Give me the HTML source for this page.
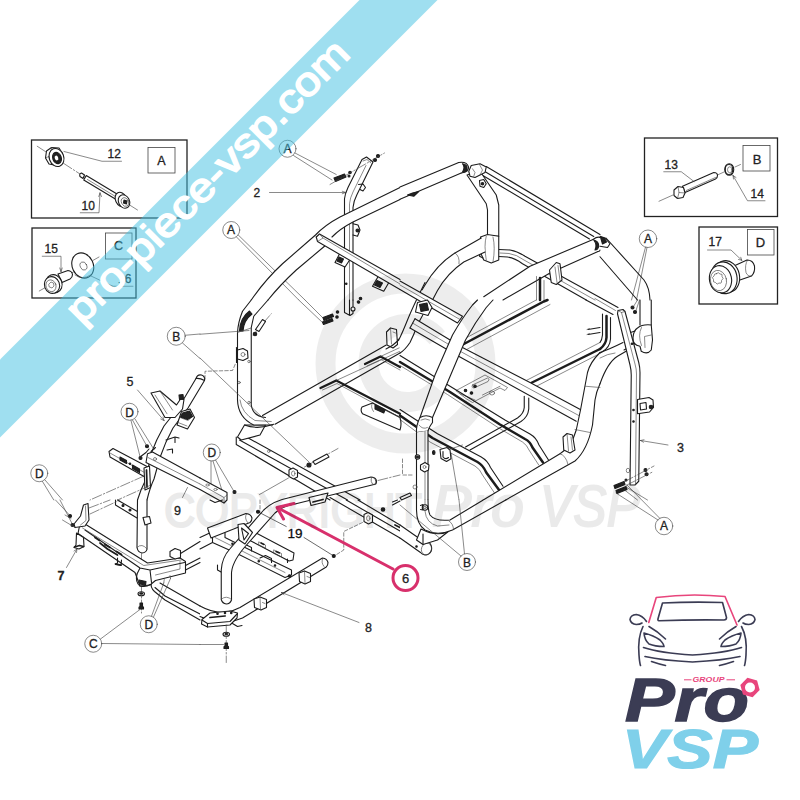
<!DOCTYPE html>
<html><head><meta charset="utf-8"><title>pro-piece-vsp.com</title>
<style>
html,body{margin:0;padding:0;background:#fff;}
body{width:800px;height:800px;overflow:hidden;position:relative;}
svg{position:absolute;left:0;top:0;display:block;}
text{font-family:"Liberation Sans","DejaVu Sans",sans-serif;}
.ln{fill:none;stroke:#1a1a1a;stroke-width:1;stroke-linecap:round;stroke-linejoin:round;}
.t4 path,.t4 line,.t4 polyline,.t4 circle,.t4 ellipse,.t4 rect,.t4 polygon{fill:none;stroke:#1c1c1c;stroke-width:4.4;stroke-linecap:round;stroke-linejoin:round;}
.t4 .f{fill:#fff;}
.t4 .w{fill:#fff;stroke:none;}
.t4 .k{fill:#222;}
.t4 .thin{stroke-width:2.5;stroke:#444;}
.t4 .dd{stroke-width:2.5;stroke:#444;stroke-dasharray:40 8 6 8;}
.t4 .ds{stroke-width:2.5;stroke:#444;stroke-dasharray:14 8;}
.lbl{font-size:12px;fill:#222;stroke:#222;stroke-width:.3px;}
</style></head><body>
<svg width="800" height="800" viewBox="0 0 800 800">
<rect width="800" height="800" fill="#fff"/>


<!-- DRAWING -->
<g id="boxes" fill="none" stroke="#222" stroke-width="1.3">
<rect x="31.5" y="140" width="155.5" height="78"/>
<rect x="32" y="228" width="104" height="70"/>
<rect x="644.5" y="138" width="133" height="78.5"/>
<rect x="699" y="227" width="78.5" height="77"/>
<g stroke-width="0.8" stroke="#444">
<rect x="148" y="147.5" width="27" height="25.5"/>
<rect x="105.5" y="233" width="26.5" height="26"/>
<rect x="743" y="145.5" width="27" height="25.5"/>
<rect x="747.5" y="229.5" width="26.5" height="25.5"/>
</g>
</g>

<g id="tiles">
<!--TILES-->
<g class="t4" transform="translate(0,100) scale(.25)">
<!-- box A -->
<path d="M149,185 L340,309 M520,421 L550,440" class="dd"/>
<!-- nut 12 -->
<path class="f" d="M186,204 L206,190 L236,192 L250,214 L246,248 L226,262 L196,256 L182,232 Z"/>
<path d="M206,190 L204,222 L226,262 M204,222 L182,232" class="thin"/>
<ellipse cx="226" cy="230" rx="29" ry="37" class="f" transform="rotate(-20 226 230)"/>
<ellipse cx="228" cy="232" rx="17" ry="23" class="k" transform="rotate(-20 228 232)"/>
<ellipse cx="226" cy="232" rx="7" ry="10" style="fill:#fff;stroke:none" transform="rotate(-20 226 232)"/>
<path d="M486,245 L408,245 L256,206" class="thin"/>
<!-- bolt 10 -->
<path class="f" d="M338,300 L326,292 Q316,294 320,306 L332,314 Z"/>
<path class="f" d="M345,302 L473,379 L463,397 L335,320 Z"/>
<path d="M350,318 L462,386" class="thin"/>
<ellipse cx="484" cy="398" rx="22" ry="30" class="f" transform="rotate(-25 484 398)"/>
<ellipse cx="496" cy="406" rx="22" ry="28" class="f" transform="rotate(-25 496 406)"/>
<ellipse cx="500" cy="408" rx="14" ry="18" class="thin" transform="rotate(-25 500 408)"/>
<path d="M496,400 L508,404 L506,416 L494,412 Z" class="k"/>
<path d="M321,451 L396,451 L400,372 M400,372 l-5,14 M400,372 l6,14" class="thin"/>
<!-- box C -->
<path d="M157,764 L180,751 M373,641 L396,628 M280,696 L300,684" class="thin"/>
<!-- washer 16 -->
<ellipse cx="331" cy="662" rx="42" ry="52" class="f" transform="rotate(-25 331 662)"/>
<ellipse cx="334" cy="664" rx="13" ry="17" class="thin" transform="rotate(-25 334 664)"/>
<path d="M300,700 Q330,722 362,700" class="thin"/>
<!-- bolt 15 -->
<path class="f" d="M232,696 L272,682 Q288,684 290,698 Q290,710 280,716 L248,730 Z"/>
<ellipse cx="216" cy="735" rx="32" ry="37" class="f" transform="rotate(-20 216 735)"/>
<ellipse cx="208" cy="740" rx="30" ry="34" class="f" transform="rotate(-20 208 740)"/>
<ellipse cx="204" cy="743" rx="20" ry="24" class="thin" transform="rotate(-20 204 743)"/>
<path d="M196,736 l8,-8 l10,4 l2,12 l-8,8 l-10,-4 Z" class="thin"/>
<path d="M169,625 L244,625 L244,686 M244,686 l-5,-14 M244,686 l5,-14" class="thin"/>
<path d="M532,745 L436,745 M451,745 L364,704" class="thin"/>
</g>
<g class="lbl">
<text x="107.5" y="158.4" font-size="12">12</text>
<text x="81.5" y="210" font-size="12">10</text>
<text x="44.5" y="252.8" font-size="12">15</text>
<text x="118" y="283" font-size="12">16</text>
<text x="161.5" y="164.7" text-anchor="middle" font-size="12.5">A</text>
<text x="118.5" y="250.2" text-anchor="middle" font-size="12.5">C</text>
</g>
<g class="t4" transform="translate(0,300) scale(.25)">
<!-- left plate -->
<path class="f" d="M436,606 L452,594 L592,668 L592,700 L576,706 L440,628 Z"/>
<path d="M440,612 L578,690" class="thin"/>
<path d="M480,628 L506,642 L506,654 L480,640 Z M530,660 L558,676 L558,690 L530,674 Z" class="k"/>
<circle cx="520" cy="655" r="3" class="k"/>
<!-- part 5 tube -->
<path class="w" d="M784,314 Q790,296 806,300 Q822,306 818,322 L752,432 L692,512 Q660,570 640,630 L616,716 Q600,750 588,800 L550,800 Q562,760 584,716 L604,616 Q624,560 656,504 L716,428 Z"/>
<path d="M818,322 L752,432 L692,512 Q660,570 640,630 L616,716 Q600,750 588,800 M784,314 L716,428 L656,504 Q624,560 604,616 L584,716 Q562,760 550,800" style="fill:none"/>
<path d="M784,314 Q790,296 806,300 Q822,306 818,322 Q800,312 784,314" style="fill:none"/>
<!-- triangular bracket -->
<path class="f" d="M604,372 L640,364 L706,420 L722,396 L736,398 L730,436 L700,470 L660,470 Z"/>
<path d="M620,380 L668,455 M640,364 L690,440" class="thin"/>
<path d="M716,380 L732,378 L734,396 L718,398 Z" class="k"/>
<!-- dark block -->
<path class="f" d="M726,446 L760,436 L778,470 L750,516 L708,500 Z"/>
<path d="M720,470 L752,482 L774,462 M712,490 L748,504" class="thin"/>
<path d="M730,452 L758,444 L770,466 L750,478 L722,468 Z" class="k"/>
<!-- hooks -->
<path d="M664,560 L700,548 L716,552 M700,548 L700,570 M668,600 L690,596 L690,612" />
<!-- part 9 channel -->
<path class="w" d="M590,615 L610,608 L800,712 L800,758 L584,650 Z"/>
<path d="M800,712 L610,608 L590,615 L584,650 L800,758"/>
<path d="M592,630 L800,736" class="thin"/>
<circle cx="620" cy="636" r="6" class="thin"/>
<!-- vertical bracket -->
<path class="f" d="M576,672 L598,664 L602,750 L580,760 Z"/>
<path d="M586,680 L588,748" style="stroke-width:7"/>
<!-- junction bits -->
<path d="M560,628 L584,610 L596,596 M604,606 L622,590" />
<circle cx="588" cy="585" r="6" class="k"/><circle cx="562" cy="632" r="6" class="k"/>
<!-- dash-dot -->
<path d="M576,704 L360,800 M600,742 L470,800" class="dd"/>
<!-- circles -->
<circle cx="705" cy="145" r="36" class="thin"/>
<path d="M741,141 L800,136 M730,172 L800,234" class="thin"/>
<circle cx="518" cy="447" r="34" class="thin"/>
<path d="M530,480 L586,582 M540,476 L616,598 M524,482 L560,626" class="thin"/>
<circle cx="157" cy="693" r="34" class="thin"/>
<path d="M180,720 L250,800 M170,726 L215,800" class="thin"/>
<path d="M550,360 L656,482 M656,482 l-4,-14 M656,482 l-13,-6" class="thin"/>
<path d="M730,790 L750,750" class="thin"/>
</g>
<g class="lbl">
<text x="176.3" y="341" text-anchor="middle">B</text>
<text x="129.5" y="416.5" text-anchor="middle">D</text>
<text x="39.3" y="478" text-anchor="middle">D</text>
<text x="126.5" y="386" font-size="12.5">5</text>
</g>
<g class="t4" transform="translate(0,500) scale(.25)">
<!-- plate at top -->
<path class="w" d="M470,0 L560,52 L560,70 L548,72 L462,20 L462,0 Z"/>
<path d="M470,0 L560,52 L560,70 L548,72 L462,20 L462,0"/>
<circle cx="492" cy="22" r="4" class="k"/><circle cx="520" cy="40" r="4" class="k"/>
<!-- vertical tube (part 5 lower) -->
<path class="w" d="M550,0 L548,190 Q552,210 568,212 Q586,210 588,196 L588,0 Z"/>
<path d="M550,0 L548,190 Q552,210 568,212 Q586,210 588,196 L588,0"/>
<path d="M548,190 Q568,170 588,196" class="thin"/>
<path class="f" d="M572,70 L598,66 L604,92 L580,100 Z"/>
<path d="M566,214 L566,452" class="dd"/>
<!-- tube part 8 -->
<path class="w" d="M640,332 L800,424 L800,456 L660,384 L620,350 Z"/>
<path d="M640,332 L800,424 M800,456 L660,384 L620,350"/>
<path d="M606,330 Q600,350 618,366 L660,400 L800,480" />
<!-- part 7 beam -->
<path class="f" d="M318,104 L340,96 L590,252 L720,232 L742,246 L742,292 L622,322 L600,340 L560,344 L540,290 L312,134 Z"/>
<path d="M340,120 L560,272 L600,280 L738,250 M560,272 L548,296 M600,280 L606,330" />
<path d="M330,112 L575,262 L725,240" class="thin"/>
<path d="M622,300 L720,276 L720,246" class="thin"/>
<path d="M380,150 L398,162 M420,178 L440,190 M466,206 L486,218 M400,172 L430,196 L470,220" style="stroke-width:7"/>
<path d="M548,296 Q540,330 560,344 Q585,350 600,338" />
<path d="M556,320 L584,326 L582,340 L558,336 Z" class="k"/>
<!-- left bracket + foot -->
<path class="f" d="M334,20 L352,14 L356,80 L340,104 L300,110 L296,96 L322,64 Z"/>
<path d="M342,24 L344,82 L322,100" class="thin"/>
<path class="f" d="M306,132 L304,180 L296,190 L316,196 L336,186 L334,150 Z"/>
<path d="M298,188 L318,182 L334,186" style="stroke-width:7"/>
<!-- mid foot -->
<path d="M470,232 L470,252 L462,258 L484,262 L486,240" />
<path d="M462,256 L484,260" style="stroke-width:7"/>
<!-- bracket upper right and tube -->
<path class="f" d="M680,206 L700,194 L722,202 L722,230 L700,236 L680,226 Z"/>
<path d="M722,214 L800,166 M742,262 L800,232 M742,280 L800,250" />
<!-- washer + bolt -->
<ellipse cx="565" cy="375" rx="13" ry="8" class="f"/><ellipse cx="565" cy="374" rx="6" ry="3" class="k"/>
<path d="M560,412 L570,412 L570,426 L574,429 L574,436 L556,436 L556,429 L560,426 Z" class="k"/>
<!-- D leader dots -->
<circle cx="280" cy="64" r="6" class="k"/><circle cx="290" cy="100" r="6" class="k"/>
<path d="M222,0 L276,58 M240,0 L288,94" class="thin"/>
<path d="M250,80 L300,110 M260,60 L284,74" class="thin"/>
<path d="M356,32 L440,0 M360,56 L480,0" class="dd"/>
<!-- 7 leader -->
<path d="M266,270 L308,196 M308,196 l-2,14 M308,196 l-12,8" class="thin"/>
<!-- circles -->
<circle cx="595" cy="497" r="34" class="thin"/>
<path d="M606,465 L655,332 M614,468 L682,314" class="thin"/>
<path d="M655,332 l2,-14 M682,314 l-2,-12" class="thin"/>
<circle cx="373" cy="575" r="34" class="thin"/>
<path d="M402,556 L560,438 M407,574 L800,578" class="thin"/>
</g>
<g class="lbl">
<text x="148.8" y="628.5" text-anchor="middle">D</text>
<text x="93.3" y="648" text-anchor="middle">C</text>
<text x="57.5" y="580" font-size="12.5" font-weight="bold">7</text>
<text x="174" y="514.5" font-size="12.5">9</text>
</g>
<g class="t4" transform="translate(200,100) scale(.25)">
<!-- post 2 -->
<path d="M578,800 L578,395 Q580,375 592,350 L648,238 L666,228 L692,248 L628,378 Q614,405 612,430 L612,800"/>
<path d="M598,800 L598,415 Q600,392 612,368 L664,262" class="thin"/>
<path d="M652,244 L668,238 L684,252" class="thin"/>
<path d="M634,338 L652,336 L662,350 L652,364 L640,358" />
<!-- small knob on post right lower -->
<path d="M612,495 L632,500 L640,520 L630,545 L612,540"/>
<circle cx="630" cy="522" r="6" class="k"/>
<!-- bolts near A -->
<path d="M536,312 L578,296 L584,308 L542,326 Z" class="k"/>
<circle cx="600" cy="290" r="5" class="k"/><circle cx="596" cy="304" r="4" class="k"/>
<circle cx="700" cy="240" r="6" class="k"/><circle cx="712" cy="224" r="6" class="k"/>
<path d="M520,338 L738,212" class="dd"/>
<!-- circle A + leaders -->
<circle cx="350" cy="195" r="34" class="thin"/>
<path d="M380,212 L545,298 M374,222 L528,320" class="thin"/>
<!-- 2 leader -->
<path d="M278,370 L583,370 M583,370 l-14,-5 M583,370 l-14,5" class="thin"/>
<!-- circle A 2 -->
<circle cx="125" cy="520" r="34" class="thin"/>
<path d="M153,540 L420,800 M146,548 L395,800" class="thin"/>
<!-- top rail far side -->
<path class="w" d="M800,350 L560,468 Q500,500 462,540 L330,655 Q260,720 205,800 L272,800 Q320,740 385,680 L498,585 L528,545 Q560,515 612,488 L800,398 Z"/>
<path d="M800,350 L560,468 Q500,500 462,540 L330,655 Q260,720 205,800"/>
<path d="M800,398 L612,488 Q560,515 528,548 M498,585 L385,680 Q320,740 272,800"/>
<!-- brackets under cross bar -->
<path class="f" d="M560,612 L540,650 L580,668 L604,632 Z" />
<path d="M556,628 L574,636 L566,652 L548,644 Z" class="k"/>
<path class="f" d="M716,700 L690,745 L735,765 L760,722 Z"/>
<path d="M708,722 L730,732 L720,750 L698,740 Z" class="k"/>
<!-- cross bar start -->
<path class="w" d="M465,548 L478,536 L800,718 L800,758 L470,566 Z"/>
<path d="M465,548 L478,536 L800,718"/>
<path d="M465,548 L470,566 L800,758"/>
<path d="M478,536 L492,552 L470,566 M492,552 L800,736" class="thin"/>
<circle cx="585" cy="735" r="3" class="k"/>
</g>
<g class="lbl">
<text x="287.5" y="153" text-anchor="middle">A</text>
<text x="231" y="234" text-anchor="middle">A</text>
<text x="253.5" y="197">2</text>
</g>
<g class="t4" transform="translate(200,300) scale(.25)">
<!-- bottom sill (lower frame) -->
<path d="M168,538 L640,800 M145,578 L520,800 M145,548 L145,578 M158,560 L590,800" />
<path class="f" d="M178,500 L150,548 L165,560 L240,540 L262,500 Z"/>
<!-- floor rail going up-right -->
<path class="w" d="M250,462 L800,148 L800,212 L300,497 Z"/>
<path d="M250,462 L745,180 M300,497 L800,212"/>
<path d="M790,160 L800,154" />
<!-- front-left post -->
<path class="w" d="M205,0 L170,45 L152,100 L150,400 Q152,470 215,500 L300,497 L260,470 Q215,465 205,420 L205,110 L215,65 L272,0 Z"/>
<path d="M205,0 L170,45 Q152,90 150,130 L150,400 Q152,470 215,500 L290,500"/>
<path d="M272,0 L215,65 L205,110 L205,420 Q212,466 262,470"/>
<path d="M158,124 Q160,72 198,44 L208,56 Q174,82 172,124 Z" class="k"/>
<path d="M150,130 L205,112" class="thin"/>
<path d="M160,400 Q166,452 220,482 L285,486" class="thin"/>
<path d="M178,500 Q230,520 295,497" />
<!-- bracket on post -->
<path class="f" d="M150,200 L172,194 L190,204 L192,232 L172,242 L150,236 Z"/>
<circle cx="172" cy="218" r="8" class="thin"/>
<circle cx="196" cy="246" r="5" class="thin"/><circle cx="156" cy="330" r="5" class="thin"/><circle cx="196" cy="410" r="5" class="thin"/>
<path d="M146,190 L146,250" />
<!-- bolt near corner -->
<path d="M212,140 L285,55" class="dd"/>
<path class="f" d="M222,118 L250,78 L262,86 L236,126 Z"/>
<circle cx="220" cy="136" r="7" class="k"/>
<!-- B leaders -->
<path d="M0,137 L196,122 M0,232 L436,648" class="thin"/>
<path d="M20,316 L20,285 L130,282 L144,250" class="ds"/>
<!-- bolt bottom -->
<path d="M418,668 L552,594" class="dd"/>
<path class="f" d="M452,646 L508,616 L516,628 L460,658 Z"/>
<circle cx="436" cy="660" r="8" class="k"/>
<!-- bracket on sill -->
<path class="f" d="M356,680 L372,672 L390,682 L390,708 L374,716 L356,706 Z"/>
<ellipse cx="373" cy="694" rx="7" ry="10" class="thin"/>
<path d="M354,712 L238,778" class="thin"/>
<circle cx="275" cy="605" r="5" class="thin"/>
<!-- D circle -->
<circle cx="47" cy="610" r="34" class="thin"/>
<path d="M52,644 L88,762 M62,640 L135,764" class="thin"/>
<path d="M44,644 L44,760" class="thin"/>
<circle cx="86" cy="768" r="6" class="k"/><circle cx="138" cy="768" r="6" class="k"/>
<!-- bits bottom-left (part 9 channel) -->
<path class="w" d="M0,712 L108,770 L108,800 L96,812 L0,758 Z"/>
<path d="M0,712 L108,770 L108,800 L96,812 L0,758"/>
<path d="M0,736 L96,790 L96,812 M96,790 L108,780" class="thin"/>
<ellipse cx="30" cy="740" rx="7" ry="4" class="thin"/><ellipse cx="62" cy="758" rx="7" ry="4" class="thin"/>
<!-- tube 6 end -->
<path class="w" d="M360,790 L684,708 Q704,710 706,726 Q706,738 696,738 L384,815 Z"/>
<path d="M360,790 L684,708 Q706,710 706,726 Q706,738 696,738 L384,815"/>
<ellipse cx="694" cy="724" rx="9" ry="15" class="thin" transform="rotate(-15 694 724)"/>
<path d="M712,722 L800,700" class="dd"/>
<path class="f" d="M436,790 L444,822 L500,808 L512,772 Z"/>
<path d="M452,808 L492,798" style="stroke-width:7"/>
<!-- frames with thick borders -->
<path d="M482,352 L545,322 L800,455" style="stroke-width:9"/>
<path d="M545,322 L800,205" class="thin"/>
<path d="M490,360 L548,334 L800,470" class="thin"/>
<path d="M660,256 L722,226 L800,268" style="stroke-width:9"/>
<path d="M722,226 L800,190 M668,264 L724,238 L800,280" class="thin"/>
<!-- strut cylinder -->
<path class="w" d="M648,428 Q640,440 650,455 L800,520 L800,470 L690,412 Z"/>
<path d="M800,470 L690,412 L648,428 Q640,440 650,455 L800,520 Q808,496 800,470"/>
<path d="M690,412 Q680,426 694,446 M740,440 L800,470" class="thin"/>
<path d="M700,420 L740,440 L735,452 L700,436 Z" class="k"/>
<!-- bracket on rail top right -->
<path class="f" d="M746,128 L762,112 L786,118 L790,178 L772,192 L748,180 Z"/>
<path d="M762,112 L766,176 M772,128 L782,132" class="thin"/>
<!-- top: A bolts + post 2 bottom -->
<path d="M0,0 M420,0 L500,80 M395,0 L492,92" class="thin"/>
<path d="M492,70 L530,56 L534,66 L496,82 Z" class="k"/><path d="M490,88 L528,74 L532,84 L494,98 Z" class="k"/>
<circle cx="550" cy="48" r="5" class="k"/><circle cx="548" cy="68" r="5" class="k"/>
<circle cx="634" cy="8" r="5" class="k"/><circle cx="642" cy="-6" r="5" class="k"/>
<path d="M578,0 L578,50 L600,62 L612,54 L612,0 M598,0 L598,60" />
<circle cx="612" cy="36" r="8" class="f"/>
</g>
<g class="lbl">
<text x="211.8" y="457" text-anchor="middle">D</text>
</g>
<g class="t4" transform="translate(200,500) scale(.25)">
<!-- top right sill continuing -->
<path d="M520,-10 L800,152 M585,0 L800,124 M632,0 L800,100" />
<path class="f" d="M656,58 L672,50 L690,60 L690,88 L674,96 L656,86 Z"/>
<ellipse cx="673" cy="73" rx="7" ry="10" class="thin"/>
<circle cx="732" cy="38" r="7" class="k"/>
<path d="M770,20 L800,4 M770,8 L790,0" />
<path d="M780,100 L800,110" style="stroke-width:7"/>
<!-- left frame bits -->
<path d="M0,150 L60,122 L70,100 L95,96 L100,118 M0,196 L50,170 M40,0 L60,10 L90,0" />
<path class="f" d="M50,128 L50,170 L150,215 L340,310 L366,300 L366,280 L180,190 L100,150 L100,118 Z"/>
<path d="M60,150 L340,290 M150,215 L150,196" class="thin"/>
<path d="M240,232 L262,222 L286,234 L286,250 M70,260 L70,280 L88,290" />
<circle cx="235" cy="245" r="3" class="k"/><circle cx="130" cy="175" r="3" class="k"/><circle cx="300" cy="262" r="3" class="k"/>
<!-- slotted plate -->
<path class="f" d="M196,132 L214,126 L376,212 L372,240 L356,244 L196,160 Z"/>
<path d="M236,168 L262,180 L262,192 L236,180 Z M296,200 L326,214 L326,228 L296,214 Z" class="thin"/>
<path d="M244,172 L256,178 M304,206 L318,212" style="stroke-width:6"/>
<path d="M186,180 L206,190 L206,204 M350,236 L350,250" />
<!-- stub tube -->
<path class="f" d="M30,112 L184,54 Q204,56 208,72 Q208,84 200,90 L44,152 Z"/>
<path d="M186,56 Q176,70 190,90" class="thin"/>
<!-- part 8 frame tube -->
<path class="w" d="M0,424 Q50,452 100,450 Q130,446 160,430 L490,232 Q508,234 512,250 Q512,262 505,268 L170,472 Q120,492 60,490 L0,466 Z"/>
<path d="M0,424 Q50,452 100,450 Q130,446 160,430 L490,232 Q508,234 512,250 Q512,262 505,268 L170,472 Q120,492 60,490 L0,466"/>
<path d="M492,234 Q482,248 496,266" class="thin"/>
<path class="f" d="M216,396 L240,388 L266,398 L266,430 L244,440 L218,430 Z"/>
<path d="M240,388 L242,436 M250,410 L260,414" class="thin"/>
<path class="f" d="M396,292 L418,284 L442,294 L442,326 L420,336 L398,326 Z"/>
<path d="M418,284 L420,332 M428,306 L438,310" class="thin"/>
<circle cx="358" cy="304" r="5" class="k"/>
<!-- mount plate -->
<path class="f" d="M8,478 L40,452 L120,444 L150,452 L148,472 L120,500 L30,508 L6,496 Z"/>
<path d="M8,480 L30,494 L120,486 L148,456 M30,494 L30,508" />
<path d="M40,470 L100,464" style="stroke-width:7"/>
<circle cx="70" cy="455" r="3" class="k"/><circle cx="100" cy="452" r="3" class="k"/><circle cx="125" cy="452" r="3" class="k"/>
<path d="M130,494 L150,506 L168,502" />
<!-- part 6 tube: vertical + bend to upper right -->
<path class="w" d="M85,398 L85,280 Q88,230 120,195 L255,40 Q290,4 360,-10 L384,15 Q330,24 300,52 L195,170 Q130,240 126,290 L126,400 Q120,416 105,416 Q90,414 85,398 Z"/>
<path d="M360,-10 Q290,4 255,40 L120,195 Q88,230 85,280 L85,398 Q90,414 105,416 Q120,416 126,400 L126,290 Q130,240 195,170 L300,52 Q330,24 384,15"/>
<path d="M86,396 Q106,380 126,398" class="thin"/>
<!-- gusset -->
<path class="f" d="M152,98 L176,94 L210,130 L180,176 L156,160 Z"/>
<path d="M166,112 L194,134 L176,160 Z" />
<!-- washer, bolt, C leader -->
<path d="M105,500 L105,650" class="dd"/>
<ellipse cx="105" cy="537" rx="13" ry="8" class="f"/><ellipse cx="105" cy="536" rx="5" ry="3" class="k"/>
<path d="M100,572 L110,572 L110,584 L114,587 L114,594 L96,594 L96,587 L100,584 Z" class="k"/>
<path d="M0,578 L94,578" class="thin"/>
<!-- dashed -->
<path d="M240,0 L240,46" class="ds"/>
<path d="M650,90 L575,126 L575,200 L540,222" class="ds"/>
<!-- 19 leaders -->
<circle cx="232" cy="47" r="6" class="k"/><circle cx="535" cy="224" r="6" class="k"/>
<path d="M345,106 L232,47 M416,150 L535,224" class="thin" style="stroke:#111"/>
<!-- 8 leader -->
<path d="M636,490 L326,370 M326,370 l14,1 M326,370 l10,9" class="thin"/>
</g>
<g fill="none" stroke="#d8306c" stroke-width="3" stroke-linecap="round" stroke-linejoin="round">
<path d="M278,508 L393,569"/>
<path d="M294,503.5 L277,507.5 L283.5,519"/>
<circle cx="405.5" cy="578" r="12.5"/>
</g>
<g class="lbl">
<text x="287.5" y="538" font-size="13.5" fill="#000">19</text>
<text x="365" y="631.5" font-size="12.5">8</text>
<text x="405.5" y="582.5" font-size="13" text-anchor="middle">6</text>
</g>
<g class="t4" transform="translate(400,100) scale(.25)">
<!-- rear top cross bar -->
<path d="M345,266 L800,538 M336,284 L775,546 M328,300 L758,556"/>
<!-- rear frame from lower joint to right -->
<path d="M395,598 L440,600 Q470,605 500,625 L800,790 M395,626 L430,628 Q460,632 490,655 L745,800"/>
<path d="M400,612 L436,614 Q466,618 496,640 L780,800" class="thin"/>
<!-- rear-left post -->
<path class="f" d="M268,300 L345,415 L350,440 L350,545 L395,545 L395,420 L385,380 L320,285 Z"/>
<!-- clamp top -->
<path class="f" d="M285,262 L320,255 L345,268 L340,290 L320,300 L300,310 L280,305 L275,285 Z"/>
<path d="M290,275 L300,290 L295,305 M318,258 L330,280 L320,300" class="thin"/>
<path d="M318,322 L335,318 L345,335 L335,350 L320,345 Z" class="f"/>
<circle cx="330" cy="335" r="5" class="k"/>
<!-- far top rail -->
<path class="w" d="M0,348 L235,250 L270,262 L245,292 L0,397 Z"/>
<path d="M0,348 L235,250 M0,397 L245,292"/>
<path d="M235,250 Q268,245 274,268 Q276,288 245,292" />
<path d="M250,255 Q272,258 268,280 Q262,290 250,288 Q262,270 250,255Z" class="k"/>
<path d="M30,380 L55,385 L75,366 L50,372 Z" class="k"/>
<!-- lower joint -->
<path class="f" d="M322,548 L350,538 L395,545 L395,640 L365,652 L335,640 L322,610 Z"/>
<path d="M345,545 Q335,580 345,640 M372,548 Q382,590 372,648" class="thin"/>
<path d="M322,610 L318,625 L332,632"/>
<!-- tube from joint going left-down -->
<path class="w" d="M325,552 L220,612 Q150,655 100,740 L85,765 L130,800 L150,762 Q190,692 255,648 L340,608 Z"/>
<path d="M325,552 L220,612 Q150,655 100,740 L85,765"/>
<path d="M340,608 L255,648 Q190,692 150,762 L130,800"/>
<path d="M220,612 Q240,625 236,655" class="thin"/>
<!-- near top rail (right side) -->
<path class="w" d="M772,558 L520,665 L335,787 L345,800 L412,800 L600,692 L792,606 Z"/>
<path d="M772,558 L520,665 L335,787 M792,606 L600,692 L412,800"/>
<!-- right joint -->
<path d="M772,558 Q790,545 800,550 M792,606 Q800,606 800,600" />
<path d="M775,560 Q795,565 795,585 Q792,600 780,600 Q790,580 775,560 Z" class="k"/>
<!-- bracket on near rail -->
<path class="f" d="M598,680 L625,650 L640,655 L648,720 L625,738 L605,730 Z"/>
<path d="M620,668 L628,730 M632,662 L640,722" class="thin"/>
<!-- rear frame verticals -->
<path d="M560,712 L560,800" style="stroke-width:10"/>
<path d="M546,706 L546,800 M576,722 L576,800" class="thin"/>
</g>
<g class="t4" transform="translate(400,300) scale(.25)">
<!-- sub frame thin tube -->
<path d="M497,385 L497,430 Q495,455 470,472 L262,588 M515,392 L515,436 Q512,468 484,486 L280,600"/>
<!-- slotted plate -->
<path d="M225,362 L340,300 L395,330 L430,350 L420,362 L400,352 L290,410 L265,395 Z" class="thin"/>
<path d="M290,340 L350,312 Q362,316 352,326 L296,352 Q284,350 290,340 Z" class="thin"/>
<circle cx="262" cy="362" r="5" class="k"/><circle cx="286" cy="372" r="5" class="k"/><circle cx="300" cy="345" r="5" class="k"/>
<ellipse cx="368" cy="372" rx="10" ry="8" class="thin"/>
<path d="M240,375 L300,400 M330,380 L400,345" class="thin"/>
<!-- upper thick frames going up-right -->
<path d="M248,180 L575,6 L590,0" style="stroke-width:10"/>
<path d="M240,165 L545,0 M270,196 L600,18" class="thin"/>
<path d="M512,338 L800,196" style="stroke-width:10"/>
<path d="M505,322 L800,170 M532,352 L800,214" class="thin"/>
<!-- thick frame A (upper-left to lower-right) -->
<path d="M0,248 L200,368 L400,498 L500,556 Q520,566 530,590 L572,650" style="stroke-width:10"/>
<path d="M0,222 L420,480 L520,536 Q545,550 556,580 L594,640" />
<path d="M0,262 L190,378 L395,512 L490,568 Q508,580 516,600 L555,660" class="thin"/>
<!-- thick frame B -->
<path d="M0,462 L130,552 L310,648 Q332,660 345,690 L400,765" style="stroke-width:10"/>
<path d="M0,438 L150,535 L325,628 Q350,642 362,670 L412,745" />
<path d="M0,478 L120,568 L300,664 Q320,676 330,700 L380,775" class="thin"/>
<!-- hoop (a) lower part joining floor rail -->
<path class="w" d="M85,-40 L30,80 L-5,160 L0,212 L40,170 L70,100 L135,-20 Z"/>
<path d="M100,-70 Q50,30 30,80 Q10,130 -5,160 Q-30,185 -56,196"/>
<path d="M120,10 Q90,60 70,100 Q55,140 40,170 Q20,200 0,212"/>
<!-- windshield cross bar right part -->
<path class="w" d="M0,-76 L250,65 L230,92 L0,-42 Z"/>
<path d="M0,-76 L250,65 L230,92 L0,-42"/>
<path d="M0,-60 L240,78" class="thin"/>
<!-- front cross bar -->
<path class="w" d="M60,75 L250,190 L520,330 L725,440 L705,485 L240,228 L40,112 Z"/>
<path d="M60,75 L250,190 L520,330 L725,440 M40,112 L240,228 L705,485"/>
<path d="M50,92 L246,208 L715,462" class="thin"/>
<path d="M60,75 L40,112" />
<!-- top-left bracket -->
<path class="f" d="M70,10 L110,0 L128,30 L112,62 L62,48 Z"/>
<path d="M78,18 L108,12 L114,40 L84,46 Z" class="k"/>
<!-- rear leg of near hoop + bottom rail -->
<path class="w" d="M800,210 L750,290 L722,440 L705,520 Q685,590 640,615 L333,800 L423,800 L700,644 Q750,600 770,500 L780,400 L800,335 Z"/>
<path d="M800,210 Q760,250 750,290 L722,440 L705,520 Q685,590 640,615 L333,800"/>
<path d="M800,335 Q784,370 780,400 L770,500 Q750,600 700,644 L423,800"/>
<path d="M742,345 L800,350 M700,518 L760,530 M640,615 Q664,622 672,658" class="thin"/>
<!-- bracket on hoop -->
<path class="f" d="M652,548 L668,534 L690,540 L700,600 L680,612 L655,600 Z"/>
<path d="M668,534 L674,604 M684,548 L690,600" class="thin"/>
<!-- near hoop tube -->
<path class="w" d="M310,0 L290,20 L210,140 L140,300 L80,470 L68,505 L112,520 L130,470 L190,330 L262,160 L345,30 L372,0 Z"/>
<path d="M310,0 L290,20 Q250,70 210,140 L140,300 L80,470 M372,0 L345,30 Q300,90 262,160 L190,330 L130,470"/>
<path class="f" d="M80,470 Q104,456 130,470 L130,490 Q114,512 112,524 L66,530 Q64,500 80,470 Z"/>
<path d="M84,480 Q100,470 118,480 M76,500 Q90,520 110,510" class="thin"/>
<!-- post -->
<path class="w" d="M66,530 L112,522 L112,800 L66,800 Z"/>
<path d="M66,530 L66,800 M112,522 L112,800"/>
<path d="M100,525 L100,800" class="thin"/>
<circle cx="70" cy="628" r="9" class="f"/><circle cx="70" cy="628" r="4" class="k"/>
<path class="f" d="M82,660 L100,650 L116,660 L114,680 L98,688 L82,678 Z"/><circle cx="98" cy="668" r="6" class="thin"/>
<circle cx="60" cy="748" r="8" class="thin"/>
<ellipse cx="135" cy="610" rx="5" ry="8" class="k"/>
<!-- lug near post -->
<path class="f" d="M160,598 L188,590 L200,600 L204,635 L186,646 L164,634 Z"/>
<path d="M172,606 L172,628 Q182,640 194,630" />
<path d="M196,598 L250,580 M204,612 L236,800" class="thin"/>
<!-- dashed + bolt bottom-left -->
<path d="M10,636 L10,700 L50,700" class="ds"/>
<path d="M0,790 L40,772 L46,782 L6,800Z" class="f"/>
<!-- bolts top-right -->
<path d="M752,118 L800,110 M752,138 L800,130" />
<path d="M748,118 l10,-4 M748,138 l10,-4" class="thin"/>
</g>
<g class="t4" transform="translate(400,500) scale(.25)">
<!-- sill tube end -->
<path class="w" d="M0,100 L86,160 Q100,156 116,168 Q130,184 126,202 Q118,220 100,220 Q88,218 82,210 L0,152 Z"/>
<path d="M0,100 L86,160 Q100,156 116,168 Q130,184 126,202 Q118,220 100,220 Q88,218 82,210 L0,152"/>
<ellipse cx="106" cy="196" rx="20" ry="24" class="thin" transform="rotate(20 106 196)"/>
<circle cx="66" cy="186" r="3" class="k"/>
<!-- foot -->
<path class="f" d="M84,116 L66,160 L92,178 L150,160 L196,124 Q150,150 84,116 Z"/>
<path d="M92,136 L92,176" />
<!-- bottom rail going up-right from post -->
<path class="w" d="M66,0 L66,40 Q66,96 100,120 Q150,146 210,120 L423,0 Z"/>
<path d="M333,0 L200,80 Q140,86 120,60 Q112,46 112,0"/>
<path d="M423,0 L210,120 Q150,146 100,120 Q66,96 66,40 L66,0"/>
<path d="M100,0 L100,44 Q104,92 150,104 L196,100" class="thin"/>
<path d="M196,84 Q214,96 214,118" class="thin"/>
<circle cx="100" cy="30" r="11" class="f"/><circle cx="100" cy="30" r="5" class="thin"/>
<path d="M82,22 L92,18 L92,40 L82,38" />
<!-- B circle -->
<circle cx="268" cy="248" r="34" class="thin"/>
<path d="M258,215 L236,0 M244,224 L0,20" class="thin"/>
</g>
<g class="lbl">
<text x="467" y="566.5" text-anchor="middle">B</text>
</g>
<g class="t4" transform="translate(600,100) scale(.25)">
<!-- box B: bolt 13 -->
<path d="M236,405 L292,380 M470,300 L496,288 M540,268 L562,258" class="thin"/>
<path class="f" d="M330,345 L455,290 Q470,290 470,302 Q470,312 462,316 L340,370 Z"/>
<path d="M345,362 L462,310" class="thin"/>
<path class="f" d="M296,360 L312,346 L334,350 L340,372 L332,390 L310,394 L296,382 Z"/>
<path d="M312,346 L316,370 L310,394 M316,370 L340,372" class="thin"/>
<!-- washer 14 -->
<ellipse cx="517" cy="278" rx="18" ry="23" class="f"/>
<ellipse cx="519" cy="279" rx="9" ry="12" class="thin"/>
<ellipse cx="516" cy="278" rx="15" ry="20"/>
<path d="M255,287 L325,287 L376,326" class="thin"/>
<path d="M660,403 L590,403 L532,302 M532,302 l2,14 M532,302 l12,8" class="thin"/>
<!-- box D: bolt 17 -->
<path class="f" d="M540,662 L588,640 Q612,640 618,664 Q621,690 606,704 L548,724 Z"/>
<path d="M590,640 Q578,660 584,690 Q590,706 604,704" class="thin"/>
<ellipse cx="508" cy="706" rx="50" ry="64" class="f" transform="rotate(-12 508 706)"/>
<ellipse cx="496" cy="711" rx="52" ry="64" class="f" transform="rotate(-12 496 711)"/>
<ellipse cx="482" cy="717" rx="44" ry="55" class="f" transform="rotate(-12 482 717)"/>
<ellipse cx="474" cy="722" rx="32" ry="41" class="thin" transform="rotate(-12 474 722)"/>
<path d="M466,694 q8,-8 14,2 q12,-2 8,10 q10,8 -2,16 q2,14 -10,10 q-8,10 -14,-2 q-12,0 -8,-12 q-10,-8 2,-14 q0,-10 10,-10z" class="thin"/>
<path d="M430,600 L524,600 L567,641 M567,641 l-13,-3 M567,641 l-4,-12" class="thin"/>
<!-- circle A right -->
<circle cx="192" cy="555" r="35" class="thin"/>
<path d="M188,590 L146,800 M182,589 L126,800" class="thin"/>
<!-- rail top-left bits -->
<path d="M0,545 L20,552 L40,575 L30,590 L0,585"/>
<path d="M2,548 L18,553 L26,568 L10,576 Z" class="k"/>
<path d="M24,552 L176,720 Q198,750 200,800"/>
<path d="M0,627 L136,784 L150,800"/>
</g>
<g class="lbl">
<text x="664.5" y="168.5" font-size="12">13</text>
<text x="750.5" y="197.5" font-size="12">14</text>
<text x="708.5" y="246.3" font-size="12">17</text>
<text x="757" y="163.5" text-anchor="middle" font-size="13">B</text>
<text x="760.5" y="246.5" text-anchor="middle" font-size="13">D</text>
<text x="648" y="243" text-anchor="middle">A</text>
</g>
<g class="t4" transform="translate(600,300) scale(.25)">
<!-- rear frame tube arriving at post 3 top -->
<path d="M0,-10 L72,30 M-56,0 L52,58"/>
<path d="M-20,-6 L62,42" class="thin"/>
<!-- rear window thick frame corner -->
<path d="M26,64 L26,150 Q24,178 0,196" style="stroke-width:10"/>
<path d="M42,70 L42,156 Q40,190 8,208 L0,212 M10,56 L10,140 Q8,160 0,170" />
<!-- hoop bits at left -->
<path d="M0,210 Q40,196 92,170 M0,335 Q30,250 70,225 L130,190"/>
<path d="M0,232 Q30,215 60,212" class="thin"/>
<!-- rear-right post from above + joint -->
<path d="M160,0 L160,100 M205,0 L205,100"/>
<path class="f" d="M150,112 Q170,96 205,100 L210,160 L205,200 Q190,220 165,205 L160,185 Q130,180 132,150 Q134,122 150,112 Z"/>
<path d="M166,110 Q150,140 166,182 M205,140 L178,146 L180,190" class="thin"/>
<path d="M92,140 L140,124 M96,200 L136,178" />
<!-- post 3 -->
<path class="f" d="M70,55 L72,42 L92,38 L100,46 L155,250 Q160,270 160,290 L155,725 L140,740 L120,740 L125,300 Q125,280 120,260 Z"/>
<path d="M86,50 L140,256 Q146,276 146,296 L142,738" class="thin"/>
<path d="M72,42 L86,50 L100,46" class="thin"/>
<circle cx="134" cy="440" r="3" class="k"/><circle cx="134" cy="486" r="3" class="k"/><circle cx="128" cy="175" r="3" class="k"/>
<!-- bracket -->
<path class="f" d="M150,398 L196,390 L212,400 L214,430 L198,448 L150,455 Z"/>
<path d="M160,414 L184,410 L186,436 L162,440 Z"/>
<circle cx="204" cy="428" r="7" class="k"/>
<!-- 3 leader -->
<path d="M272,580 L162,562 M162,562 l14,-3 M162,562 l12,7" class="thin"/>
<!-- A bolts top -->
<circle cx="130" cy="30" r="6" class="k"/><circle cx="140" cy="48" r="6" class="k"/>
<path d="M150,0 L134,26 M158,0 L144,42" class="thin"/>
<!-- bottom bolts -->
<path d="M56,742 L96,726 L100,738 L60,754 Z" class="k"/><path d="M64,762 L104,746 L108,758 L68,774 Z" class="k"/>
<circle cx="182" cy="680" r="6" class="k"/><circle cx="186" cy="697" r="6" class="k"/>
<circle cx="104" cy="720" r="4" class="k"/>
<path d="M96,728 L216,664 M104,742 L210,688" class="dd"/>
<ellipse cx="112" cy="682" rx="7" ry="9" class="thin"/>
<path d="M98,760 L150,800 M104,748 L190,800" class="thin"/>
</g>
<g class="lbl">
<text x="677" y="451.5" font-size="12.5">3</text>
</g>
<g class="t4" transform="translate(600,500) scale(.25)">
<circle cx="256" cy="104" r="35" class="thin"/>
<path d="M232,80 L64,-28 M240,74 L108,-60" class="thin"/>
</g>
<g class="lbl">
<text x="664" y="530.2" text-anchor="middle">A</text>
</g>
<!--/TILES-->
</g>

<!-- WATERMARK -->
<g id="wm" fill="none" stroke="#000" stroke-opacity="0.072">
<circle cx="405.5" cy="363.6" r="80" stroke-width="20"/>
<path d="M437.4 337.9 A39 39 0 1 0 437.4 388.1" stroke-width="20"/>
</g>
<g id="wmtext" fill="#000" stroke="#000" opacity="0.078">
<text x="164" y="527" font-size="47.5" textLength="258" lengthAdjust="spacingAndGlyphs" stroke-width="2">COPYRIGHT</text>
<text x="432" y="526" font-size="58" font-style="italic" textLength="92" lengthAdjust="spacingAndGlyphs" stroke-width="2">Pro</text>
<text x="540" y="526" font-size="58" font-style="italic" textLength="100" lengthAdjust="spacingAndGlyphs" stroke-width="2">VSP</text>
</g>

<!-- BAND -->
<polygon points="0,359.5 359.5,0 437.5,0 0,437.5" fill="#3fbfe1" fill-opacity="0.5"/>
<g transform="translate(212.3,186.2) rotate(-45)">
<text x="0" y="6.5" text-anchor="middle" font-family="'DejaVu Sans','Liberation Sans',sans-serif" font-size="40" fill="#fff" stroke="#fff" stroke-width="1.6" stroke-linejoin="round" textLength="382" lengthAdjust="spacingAndGlyphs">pro-piece-vsp.com</text>
</g>

<!-- LOGO -->
<g id="car" transform="translate(600,580) scale(.25)" fill="none" stroke="#3b3c54" stroke-width="6.5" stroke-linecap="round" stroke-linejoin="round">
<path d="M195,170 L225,70 Q360,52 500,66 L548,180" stroke="#e8457c"/>
<path d="M250,92 Q370,86 490,90 L506,150 Q506,160 496,160 Q370,158 236,163 Q230,162 232,155 Z"/>
<path d="M186,166 Q170,142 145,138 Q122,140 120,158 Q124,176 145,178 Q160,178 168,172"/>
<path d="M554,166 Q570,142 595,138 Q618,140 620,158 Q616,176 595,178 Q580,178 572,172"/>
<path d="M172,186 Q150,230 156,300 Q158,330 162,342"/>
<path d="M566,186 Q590,230 584,300 Q582,330 578,342"/>
<path d="M196,186 Q230,205 262,236 M544,186 Q510,205 478,236"/>
<path d="M176,212 Q215,222 240,240 Q255,255 256,266 Q220,266 196,256 Q178,240 176,212 Z"/>
<path d="M564,212 Q525,222 500,240 Q485,255 484,266 Q520,266 544,256 Q562,240 564,212 Z"/>
<path d="M174,270 Q240,292 370,300 Q500,292 566,270"/>
<path d="M180,306 Q250,322 370,328 Q490,322 560,306"/>
<path d="M206,326 Q235,336 262,342 M534,326 Q505,336 478,342"/>
</g>
<g id="logo">
<text x="625" y="721" font-size="62" font-weight="bold" font-style="italic" fill="#3b3c54" stroke="#3b3c54" stroke-width="1.5" textLength="124" lengthAdjust="spacingAndGlyphs">Pro</text>
<text x="622" y="767.5" font-size="56" font-weight="bold" font-style="italic" fill="#7fd0ea" stroke="#7fd0ea" stroke-width="1.2" textLength="136" lengthAdjust="spacingAndGlyphs">VSP</text>
<text x="692.5" y="682.3" font-size="7" font-weight="bold" font-style="italic" fill="#e8457c" textLength="32" lengthAdjust="spacingAndGlyphs">GROUP</text>
<path d="M684 679.8h7.5M726.5 679.8h8.5" stroke="#e8457c" stroke-width="1"/>
<polygon points="760,687.5 755,696.2 745,696.2 740,687.5 745,678.8 755,678.8" fill="#e8457c" transform="rotate(15 750 687.5)"/>
<circle cx="750" cy="687.5" r="5" fill="#fff"/>
</g>
</svg>
</body></html>
